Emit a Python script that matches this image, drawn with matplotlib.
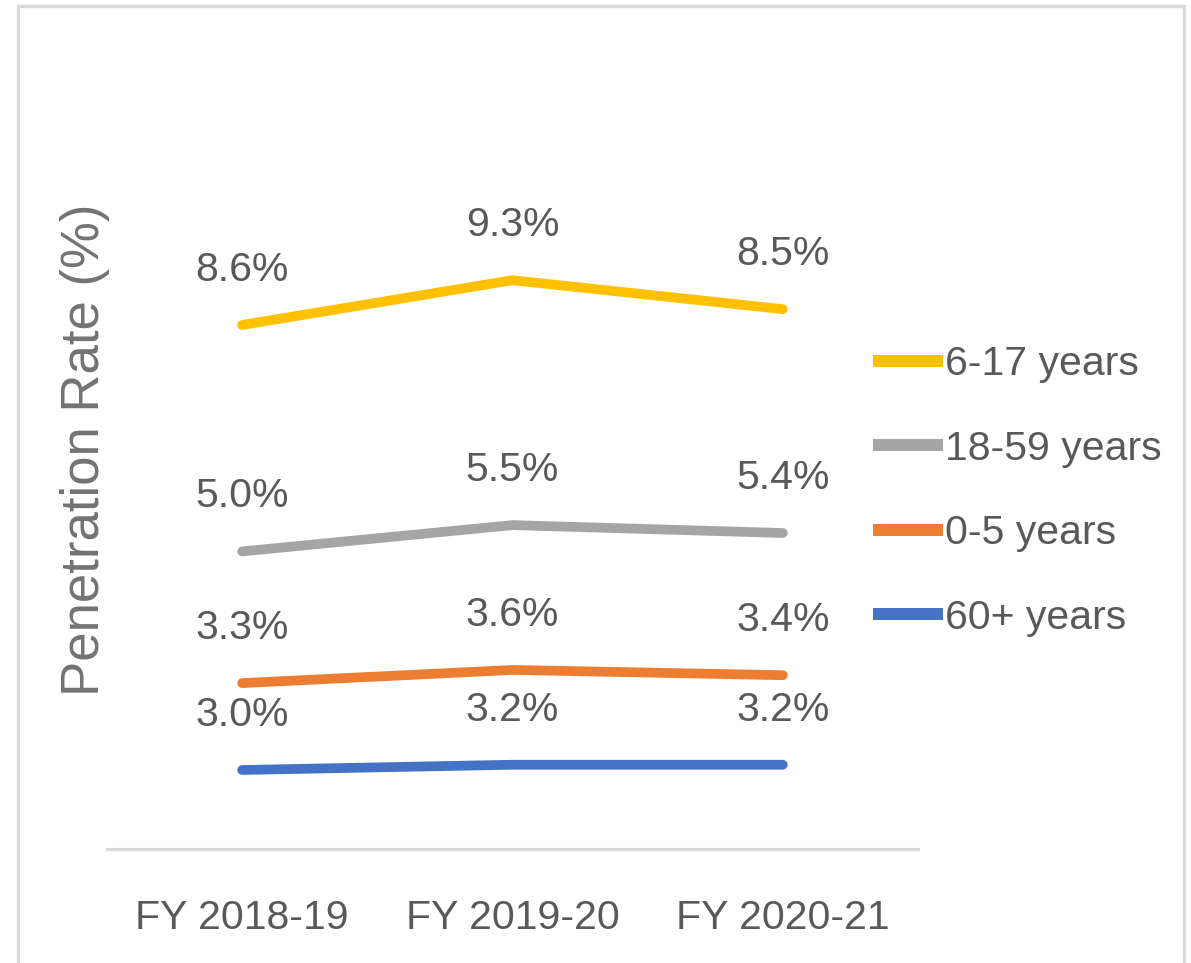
import matplotlib.pyplot as plt
import matplotlib.patches as mpatches
from matplotlib import font_manager
import numpy as np

# ── Data ──────────────────────────────────────────────────────────────────────
YEARS     = ["FY 2018-19", "FY 2019-20", "FY 2020-21"]
AGE_60    = [3.0, 3.2, 3.2]
AGE_0_5   = [3.3, 3.6, 3.4]
AGE_18_59 = [5.0, 5.5, 5.4]
AGE_6_17  = [8.6, 9.3, 8.5]
NAMES     = ["60+ years", "0-5 years", "18-59 years", "6-17 years"]

# ── Style ─────────────────────────────────────────────────────────────────────
COLORS   = ["#4472C4", "#ED7D31", "#A5A5A5", "#FFC000"]
TEXT_COL = "#595959"
AXIS_COL = "#D9D9D9"
W, H, DPI = 1191, 963, 100

names = {f.name for f in font_manager.fontManager.ttflist}
if "Liberation Sans Narrow" in names:
    FONT = "Liberation Sans Narrow"
    EM_PX = 47
else:
    FONT = "Liberation Sans"
    EM_PX = 41
FS = EM_PX * 72 / DPI
plt.rcParams["font.family"] = [FONT, "DejaVu Sans"]

fig = plt.figure(figsize=(W / DPI, H / DPI), dpi=DPI)
ax = fig.add_axes([107 / W, 114 / H, 811 / W, 790 / H])

# stacked lines
series = [AGE_60, AGE_0_5, AGE_18_59, AGE_6_17]
stacked = np.cumsum(np.array(series), axis=0)
x = np.arange(len(YEARS))

handles = []
for vals, cum, name, col in zip(series, stacked, NAMES, COLORS):
    ln, = ax.plot(x, cum, color=col, lw=7, solid_capstyle="round", label=name, zorder=3)
    handles.append(ln)
    for xi, v, c in zip(x, vals, cum):
        ax.annotate(f"{v:.1f}%", (xi, c), xytext=(0, 44), textcoords="offset pixels",
                    ha="center", va="baseline", fontsize=FS, color=TEXT_COL)

ax.set_xlim(-0.5, 2.5)
ax.set_ylim(0, 30)
ax.set_yticks([])
ax.set_xticks(x)
ax.set_xticklabels(YEARS)
ax.tick_params(axis="x", length=0, pad=(929 - 0.72 * EM_PX - 849) * 72 / DPI,
               labelsize=FS, labelcolor=TEXT_COL)
for s in ["top", "right", "left"]:
    ax.spines[s].set_visible(False)
ax.spines["bottom"].set_color(AXIS_COL)
ax.spines["bottom"].set_linewidth(2.3)

ax.set_ylabel("Penetration Rate (%)", fontsize=38, color="#737373", family="Liberation Sans")
ax.yaxis.set_label_coords(0.004, 0.505)

# legend (top entry = top line)
row_h = 87 / EM_PX
text_h = 1.12
leg = fig.legend(handles[::-1], NAMES[::-1], loc="center left",
                 bbox_to_anchor=(873 / W, 1 - 491 / H), frameon=False,
                 fontsize=FS, handlelength=70 / EM_PX, handletextpad=0.06,
                 labelspacing=row_h - text_h + 0.13, borderpad=0, borderaxespad=0)
for t in leg.get_texts():
    t.set_color(TEXT_COL)
for l in leg.get_lines():
    l.set_linewidth(8.6)
    l.set_solid_capstyle("butt")

# outer frame
fig.patches.append(mpatches.Rectangle((18.3 / W, -0.05), (1184.3 - 18.3) / W, 1.05 - 5.7 / H,
                                      transform=fig.transFigure, fill=False,
                                      edgecolor=AXIS_COL, lw=2.4))

fig.savefig("out.png", dpi=DPI)
